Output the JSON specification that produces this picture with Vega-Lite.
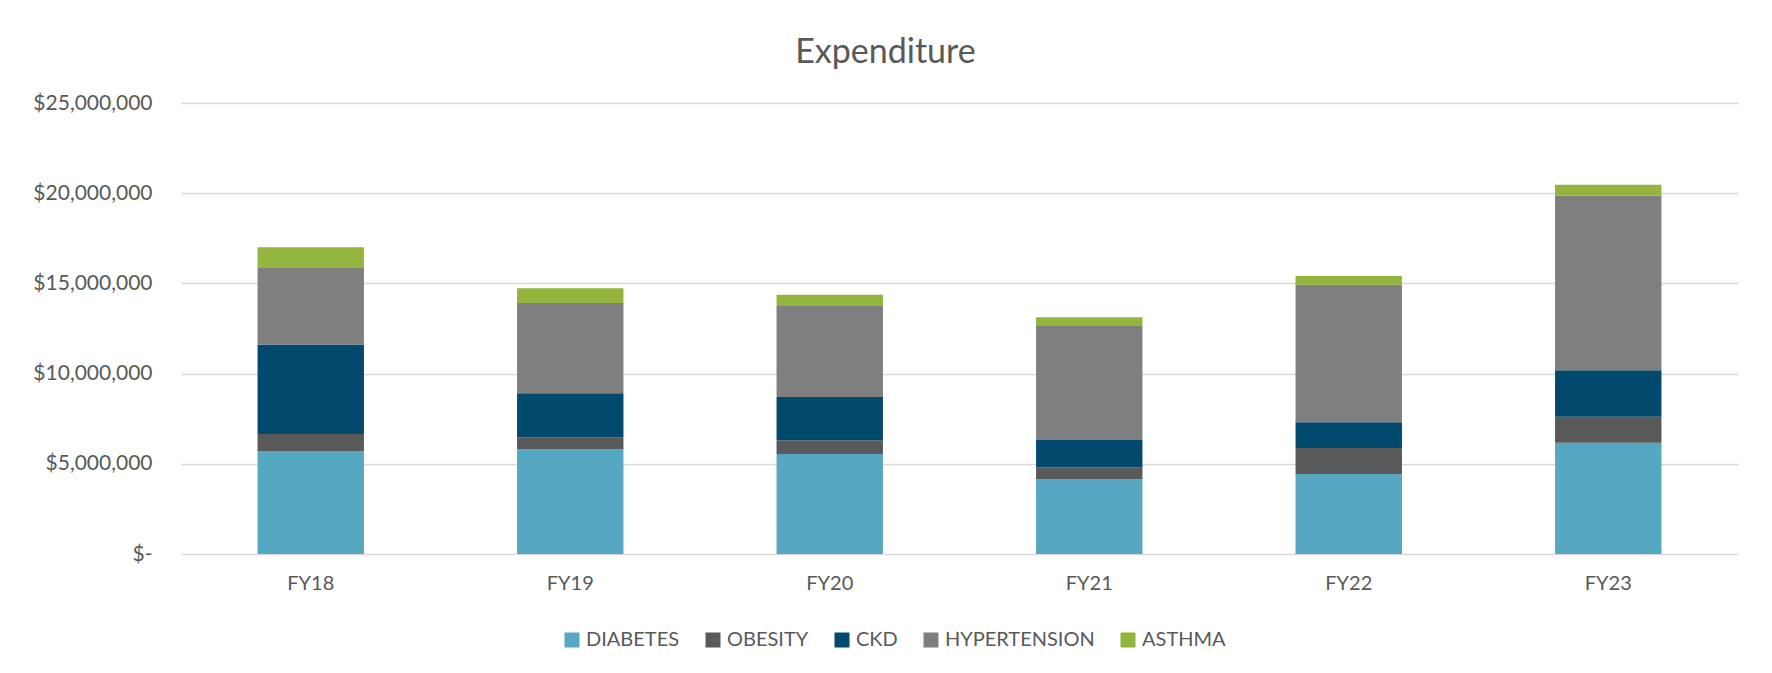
{
  "$schema": "https://vega.github.io/schema/vega-lite/v6.json",
  "autosize": "none",
  "width": 1557,
  "height": 451,
  "padding": {"left": 181, "top": 103, "right": 34, "bottom": 119},
  "background": "white",
  "title": {
    "text": "Expenditure",
    "font": "Lato",
    "fontSize": 34,
    "fontWeight": "normal",
    "color": "#595959",
    "anchor": "middle",
    "frame": "bounds",
    "offset": 22
  },
  "data": {
    "values": [
      {"fy": "FY18", "cat": "DIABETES", "v": 5710000},
      {"fy": "FY18", "cat": "OBESITY", "v": 940000},
      {"fy": "FY18", "cat": "CKD", "v": 4970000},
      {"fy": "FY18", "cat": "HYPERTENSION", "v": 4270000},
      {"fy": "FY18", "cat": "ASTHMA", "v": 1110000},
      {"fy": "FY19", "cat": "DIABETES", "v": 5800000},
      {"fy": "FY19", "cat": "OBESITY", "v": 670000},
      {"fy": "FY19", "cat": "CKD", "v": 2440000},
      {"fy": "FY19", "cat": "HYPERTENSION", "v": 5000000},
      {"fy": "FY19", "cat": "ASTHMA", "v": 820000},
      {"fy": "FY20", "cat": "DIABETES", "v": 5540000},
      {"fy": "FY20", "cat": "OBESITY", "v": 760000},
      {"fy": "FY20", "cat": "CKD", "v": 2400000},
      {"fy": "FY20", "cat": "HYPERTENSION", "v": 5050000},
      {"fy": "FY20", "cat": "ASTHMA", "v": 620000},
      {"fy": "FY21", "cat": "DIABETES", "v": 4140000},
      {"fy": "FY21", "cat": "OBESITY", "v": 670000},
      {"fy": "FY21", "cat": "CKD", "v": 1510000},
      {"fy": "FY21", "cat": "HYPERTENSION", "v": 6320000},
      {"fy": "FY21", "cat": "ASTHMA", "v": 480000},
      {"fy": "FY22", "cat": "DIABETES", "v": 4430000},
      {"fy": "FY22", "cat": "OBESITY", "v": 1450000},
      {"fy": "FY22", "cat": "CKD", "v": 1420000},
      {"fy": "FY22", "cat": "HYPERTENSION", "v": 7630000},
      {"fy": "FY22", "cat": "ASTHMA", "v": 480000},
      {"fy": "FY23", "cat": "DIABETES", "v": 6170000},
      {"fy": "FY23", "cat": "OBESITY", "v": 1440000},
      {"fy": "FY23", "cat": "CKD", "v": 2570000},
      {"fy": "FY23", "cat": "HYPERTENSION", "v": 9680000},
      {"fy": "FY23", "cat": "ASTHMA", "v": 610000}
    ]
  },
  "transform": [
    {"calculate": "indexof(['DIABETES', 'OBESITY', 'CKD', 'HYPERTENSION', 'ASTHMA'], datum.cat)", "as": "stackOrder"}
  ],
  "mark": {"type": "bar"},
  "encoding": {
    "x": {
      "field": "fy",
      "type": "nominal",
      "scale": {"paddingInner": 0.59, "paddingOuter": 0.295},
      "axis": {
        "title": null,
        "labelAngle": 0,
        "labelFont": "Lato",
        "labelFontSize": 20,
        "labelColor": "#595959",
        "labelPadding": 19,
        "domain": false,
        "ticks": false
      }
    },
    "y": {
      "field": "v",
      "type": "quantitative",
      "stack": "zero",
      "scale": {"domain": [0, 25000000], "nice": false},
      "axis": {
        "title": null,
        "values": [0, 5000000, 10000000, 15000000, 20000000, 25000000],
        "labelExpr": "datum.value == 0 ? '$-\u00a0\u00a0\u00a0' : '$' + format(datum.value, ',')",
        "labelFont": "Lato",
        "labelFontSize": 21,
        "labelColor": "#595959",
        "labelPadding": 29,
        "domain": false,
        "ticks": false,
        "grid": true,
        "gridColor": "#d9d9d9",
        "gridWidth": 1.4
      }
    },
    "color": {
      "field": "cat",
      "type": "nominal",
      "sort": ["DIABETES", "OBESITY", "CKD", "HYPERTENSION", "ASTHMA"],
      "scale": {
        "domain": ["DIABETES", "OBESITY", "CKD", "HYPERTENSION", "ASTHMA"],
        "range": ["#56A7C2", "#595959", "#014A6E", "#7F7F7F", "#93B53E"]
      },
      "legend": {
        "title": null,
        "orient": "none",
        "direction": "horizontal",
        "legendX": 381,
        "legendY": 527,
        "padding": 0,
        "symbolType": "square",
        "symbolSize": 225,
        "symbolStrokeWidth": 0,
        "labelFont": "Lato",
        "labelFontSize": 20,
        "labelColor": "#595959",
        "labelOffset": 4,
        "columnPadding": 23
      }
    },
    "order": {"field": "stackOrder", "type": "quantitative", "sort": "ascending"}
  },
  "config": {
    "view": {"stroke": null}
  }
}
